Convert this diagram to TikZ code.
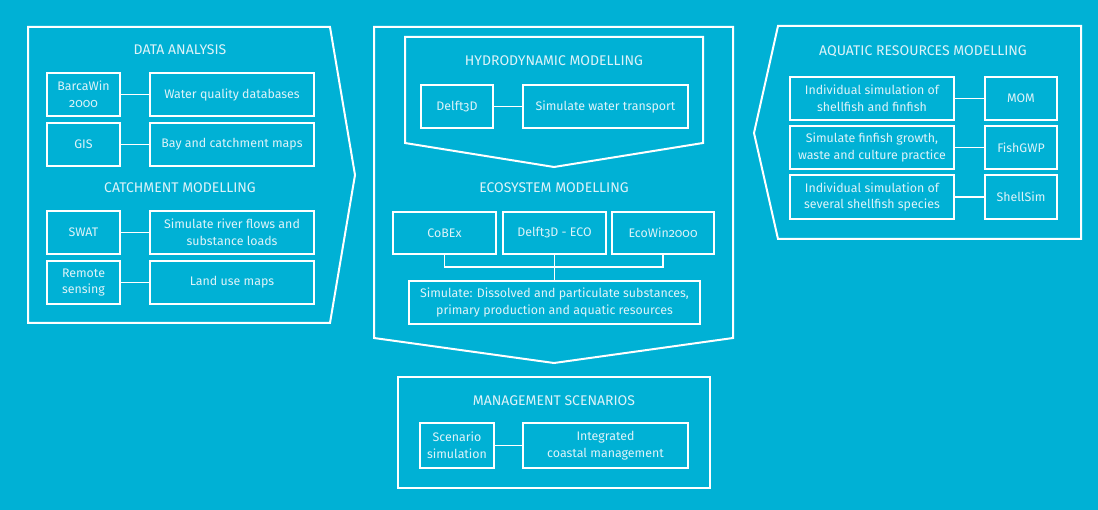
\documentclass[tikz,border=0pt]{standalone}
\usepackage{fontspec}
\setmainfont{Fira Sans}[Numbers=OldStyle]
\usetikzlibrary{positioning}
\definecolor{mbg}{HTML}{00B1D5}
\definecolor{mtext}{HTML}{DDF3F9}
\tikzset{
  tbox/.style={draw=white, line width=1.5pt, text=mtext, align=center,
               font=\fontsize{12.4}{16.8}\selectfont, inner sep=0pt},
  ttl/.style={text=mtext, font=\fontsize{14}{16}\selectfont},
  pnl/.style={draw=white, line width=2pt, line join=miter},
  lnk/.style={draw=white, line width=1.5pt},
}

\begin{document}
\begin{tikzpicture}[x=1pt, y=-1pt]
  \fill[mbg] (0,0) rectangle (1098,510);
  \useasboundingbox (0,0) rectangle (1098,510);

  % data analysis + catchment
  \draw[pnl] (28,27) -- (330,27) -- (355,175) -- (330,323) -- (28,323) -- cycle;
  \node[ttl] (dat) at (180,50) {DATA ANALYSIS};
  \node[tbox, minimum width=73pt, minimum height=43pt] (barca) at (83.5,94.5) {BarcaWin\\2000};
  \node[tbox, minimum width=164pt, minimum height=43pt] (wqdb) at (232,94.5) {Water quality databases};
  \node[tbox, minimum width=73pt, minimum height=43pt] (gis) at (83.5,144.5) {GIS};
  \node[tbox, minimum width=164pt, minimum height=43pt] (bay) at (232,144.5) {Bay and catchment maps};
  \node[ttl] (cat) at (180,188) {CATCHMENT MODELLING};
  \node[tbox, minimum width=73pt, minimum height=43pt] (swat) at (83.5,232.5) {SWAT};
  \node[tbox, minimum width=164pt, minimum height=43pt] (river) at (232,232.5) {Simulate river flows and\\substance loads};
  \node[tbox, minimum width=73pt, minimum height=43pt] (remote) at (83.5,282.5) {Remote\\sensing};
  \node[tbox, minimum width=164pt, minimum height=43pt] (land) at (232,282.5) {Land use maps};
  \draw[lnk] (barca) -- (wqdb);
  \draw[lnk] (gis) -- (bay);
  \draw[lnk] (swat) -- (river);
  \draw[lnk] (remote) -- (land);

  % hydrodynamic + ecosystem
  \draw[pnl] (374,27) -- (733,27) -- (733,338) -- (554,363) -- (374,338) -- cycle;
  \draw[pnl] (405,37) -- (703,37) -- (703,143) -- (554,167) -- (405,143) -- cycle;
  \node[ttl] (hyd) at (554,61) {HYDRODYNAMIC MODELLING};
  \node[tbox, minimum width=72pt, minimum height=43pt] (delft) at (457,106.5) {Delft3D};
  \node[tbox, minimum width=165pt, minimum height=43pt] (trans) at (605.5,106.5) {Simulate water transport};
  \draw[lnk] (delft) -- (trans);
  \node[ttl] (eco) at (554,188) {ECOSYSTEM MODELLING};
  \node[tbox, minimum width=103pt, minimum height=42pt] (cobex) at (444.5,233) {CoBEx};
  \node[tbox, minimum width=103pt, minimum height=42pt] (deco) at (554.5,233) {Delft3D - ECO};
  \node[tbox, minimum width=102pt, minimum height=42pt] (ecowin) at (663,233) {EcoWin2000};
  \node[tbox, minimum width=291pt, minimum height=43pt] (sim) at (554.5,302.5)
    {Simulate: Dissolved and particulate substances,\\primary production and aquatic resources};
  \coordinate (bar) at (554.5,267);
  \draw[lnk] (cobex.south) |- (bar) -| (ecowin.south);
  \draw[lnk] (deco.south) -- (sim.north);

  % aquatic resources
  \draw[pnl] (778,26) -- (1081,26) -- (1081,239) -- (778,239) -- (754,133) -- cycle;
  \node[ttl] (aqu) at (923,51) {AQUATIC RESOURCES MODELLING};
  \node[tbox, minimum width=164pt, minimum height=43pt] (indiv) at (872,98.5) {Individual simulation of\\shellfish and finfish};
  \node[tbox, minimum width=72pt, minimum height=43pt] (mom) at (1021,98.5) {MOM};
  \node[tbox, minimum width=164pt, minimum height=43pt] (grow) at (872,147.5) {Simulate finfish growth,\\waste and culture practice};
  \node[tbox, minimum width=72pt, minimum height=43pt] (fish) at (1021,147.5) {FishGWP};
  \node[tbox, minimum width=164pt, minimum height=44pt] (sev) at (872,197) {Individual simulation of\\several shellfish species};
  \node[tbox, minimum width=72pt, minimum height=44pt] (shell) at (1021,197) {ShellSim};
  \draw[lnk] (indiv) -- (mom);
  \draw[lnk] (grow) -- (fish);
  \draw[lnk] (sev) -- (shell);

  % management
  \draw[pnl] (398,377) rectangle (710,488);
  \node[ttl] (man) at (554,401) {MANAGEMENT SCENARIOS};
  \node[tbox, minimum width=74pt, minimum height=45pt] (scen) at (457,445.5) {Scenario\\simulation};
  \node[tbox, minimum width=165pt, minimum height=45pt] (icm) at (605.5,445.5) {Integrated\\coastal management};
  \draw[lnk] (scen) -- (icm);
\end{tikzpicture}
\end{document}
